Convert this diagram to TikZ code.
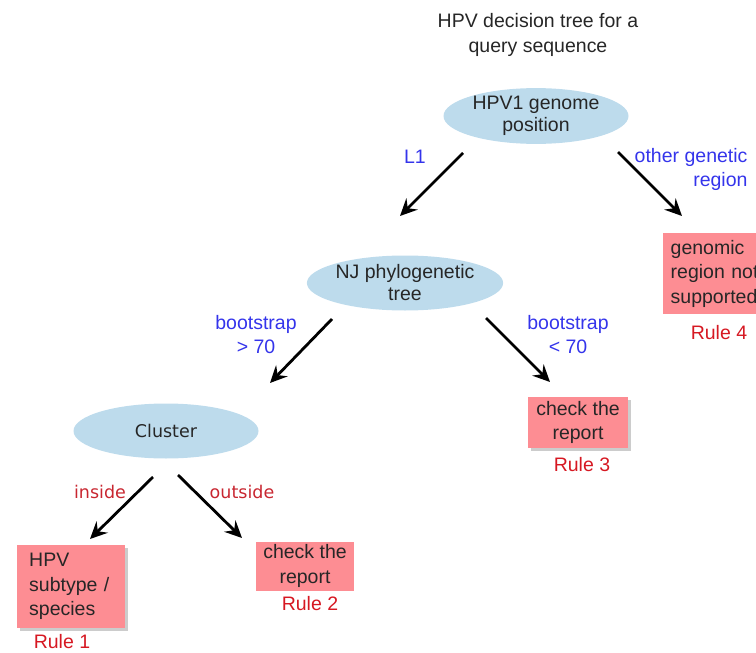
\documentclass[tikz,border=0pt]{standalone}
\usepackage{fontspec}
\setmainfont{Liberation Sans}
\newfontfamily\tahomafont{DejaVu Sans}
\usepackage{tikz}
\usetikzlibrary{shapes.geometric}
\usetikzlibrary{shadows}
\usetikzlibrary{arrows.meta}

\definecolor{bubblefill}{RGB}{189,219,236}
\definecolor{leaffill}{RGB}{253,141,147}
\definecolor{branchblue}{RGB}{52,52,235}
\definecolor{rulered}{RGB}{214,24,34}
\definecolor{branchred}{RGB}{200,38,48}

\tikzset{
  question/.style={ellipse, fill=bubblefill, inner sep=0pt, minimum width=185, minimum height=55,
    align=center, text=black!85, font=\fontsize{19.5}{22}\selectfont},
  leaf/.style={rectangle, fill=leaffill, inner sep=0pt, text=black!85,
    font=\fontsize{19.5}{24.5}\selectfont},
  leafshadow/.style={drop shadow={shadow xshift=3pt, shadow yshift=-3pt, fill=black!40}},
  rulename/.style={text=rulered, font=\fontsize{19.5}{22}\selectfont},
  bluelabel/.style={text=branchblue, font=\fontsize{19.5}{24}\selectfont},
  redlabel/.style={text=branchred, font=\tahomafont\fontsize{17.5}{20}\selectfont},
  branch/.style={-{Stealth[length=17pt,width=16pt,inset=6pt]}, line width=2.8pt, black},
}

\begin{document}
\begin{tikzpicture}[x=1pt,y=1pt,yscale=-1,xscale=1]
\clip (0,0) rectangle (756,653);

% Text Node
\node (title) [align=center, text=black!85, font=\fontsize{19.5}{25}\selectfont] at (538,35) {HPV decision tree for a\\query sequence};

%Shape: Ellipse [id:genome]
\node (genome) [question] at (536,116) {HPV1 genome\\position};
%Shape: Ellipse [id:njtree]
\node (njtree) [question] at (405,283) {NJ phylogenetic\\tree};
%Shape: Ellipse [id:cluster]
\node (cluster) [question, font=\tahomafont\fontsize{17.5}{20}\selectfont] at (166,431) {Cluster};

%Shape: Rectangle [id:rule4]
\node (rule4) [leaf, anchor=north west, minimum width=115, minimum height=81,
  text width=100, inner xsep=7pt, align=left] at (663,233) {genomic\\region not\\supported};
%Shape: Rectangle [id:rule3]
\node (rule3) [leaf, leafshadow, minimum width=100, minimum height=51, align=center] at (578,422.5) {check the\\report};
%Shape: Rectangle [id:rule2]
\node (rule2) [leaf, minimum width=98, minimum height=49, align=center] at (305,566) {check the\\report};
%Shape: Rectangle [id:rule1]
\node (rule1) [leaf, leafshadow, anchor=north west, minimum width=107, minimum height=83,
  text width=84, inner xsep=12pt, align=left] at (17,545) {HPV\\subtype /\\species};

% Text Node
\node (name4) [rulename] at (719,333) {Rule 4};
\node (name3) [rulename] at (582,465) {Rule 3};
\node (name2) [rulename] at (310,604) {Rule 2};
\node (name1) [rulename] at (62,642) {Rule 1};

%Straight Lines [id:arrow ends]
\coordinate (l1from) at (463,153);
\coordinate (l1to) at (400,216);
\coordinate (otherfrom) at (618,152);
\coordinate (otherto) at (682,216);
\coordinate (highfrom) at (332,319);
\coordinate (highto) at (270,383);
\coordinate (lowfrom) at (486,318);
\coordinate (lowto) at (550,382);
\coordinate (insidefrom) at (153,477);
\coordinate (insideto) at (90,539);
\coordinate (outsidefrom) at (178,475);
\coordinate (outsideto) at (242,538);

\draw [branch] (l1from) -- (l1to);
\draw [branch] (otherfrom) -- (otherto);
\draw [branch] (highfrom) -- (highto);
\draw [branch] (lowfrom) -- (lowto);
\draw [branch] (insidefrom) -- (insideto);
\draw [branch] (outsidefrom) -- (outsideto);

% Text Node
\node (l1) [bluelabel] at (415,157) {L1};
\node (other) [bluelabel, anchor=east, align=right] at (751,169) {other genetic\\region};
\node (high) [bluelabel, align=center] at (256,335) {bootstrap\\> 70};
\node (low) [bluelabel, align=center] at (568,335) {bootstrap\\< 70};
\node (inside) [redlabel] at (100,492) {inside};
\node (outside) [redlabel] at (242,492) {outside};

\end{tikzpicture}
\end{document}
